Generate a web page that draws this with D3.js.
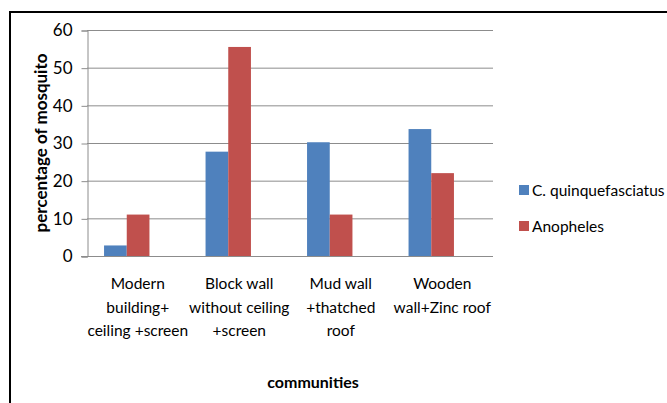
<!DOCTYPE html>
<html>
<head>
<meta charset="utf-8">
<script src="https://cdn.jsdelivr.net/npm/d3@7"></script>
<style>
  body { margin: 0; background: #fff; }
  text { font-family: Lato, "Open Sans", sans-serif; fill: #000; }
</style>
</head>
<body>
<div id="chart"></div>
<script>
// data
var categories = [
    ["Modern", "building+", "ceiling +screen"],
    ["Block wall", "without ceiling", "+screen"],
    ["Mud wall", "+thatched", "roof"],
    ["Wooden", "wall+Zinc roof"]
];
var seriesNames = ["C. quinquefasciatus", "Anopheles"];
var culexValues = [2.8, 27.7, 30.2, 33.7];
var anophelesValues = [11, 55.5, 11, 22];
var yTicks = [0, 10, 20, 30, 40, 50, 60];
var colors = ["#4F81BD", "#C0504D"];

function DessinChart() {
    var W = 667, H = 403;
    var svg = d3.select("#chart").append("svg").attr("width", W).attr("height", H);

    // outer frame (runs off the right and bottom edges)
    svg.append("rect").attr("x", 10).attr("y", 12).attr("width", 700).attr("height", 500)
        .attr("fill", "none").attr("stroke", "#000").attr("stroke-width", 2);

    var left = 87, right = 493, top = 30, bottom = 256;

    var y = d3.scaleLinear().domain([0, 60]).range([bottom, top]);
    var x = d3.scaleBand().domain(d3.range(categories.length)).range([left, right]);

    // gridlines
    svg.selectAll(".grid").data(yTicks.slice(1)).enter().append("line")
        .attr("x1", left).attr("x2", right)
        .attr("y1", function(d) { return y(d) + 0.5; })
        .attr("y2", function(d) { return y(d) + 0.5; })
        .attr("stroke", "#8c8c8c").attr("stroke-width", 1);

    // y axis
    var yAxis = d3.axisLeft(y).tickValues(yTicks).tickSize(6).tickPadding(9);
    var gy = svg.append("g").attr("transform", "translate(" + (left + 0.5) + ",0.5)").call(yAxis);
    gy.select(".domain").attr("stroke", "#8c8c8c");
    gy.selectAll(".tick line").attr("stroke", "#8c8c8c");
    gy.selectAll(".tick text").style("font-size", "17px").style("font-family", "Lato").attr("fill", "#000");

    // bars
    var barW = 22.7;
    var shift = -11; // bars sit a little left of the category centre in the original
    var series = [culexValues, anophelesValues];
    series.forEach(function(vals, s) {
        svg.selectAll(".bar" + s).data(vals).enter().append("rect")
            .attr("x", function(d, i) { return x(i) + x.bandwidth() / 2 + shift - barW + s * barW; })
            .attr("y", function(d) { return y(d); })
            .attr("width", barW)
            .attr("height", function(d) { return bottom - y(d); })
            .attr("fill", colors[s]);
    });

    // x axis baseline
    svg.append("line").attr("x1", left - 6).attr("x2", right)
        .attr("y1", bottom + 0.5).attr("y2", bottom + 0.5)
        .attr("stroke", "#8c8c8c");

    // category labels
    var lab = svg.selectAll(".cat").data(categories).enter().append("text")
        .attr("text-anchor", "middle")
        .style("font-size", "15.5px")
        .attr("transform", function(d, i) { return "translate(" + (x(i) + x.bandwidth() / 2) + ",289)"; });
    lab.selectAll("tspan").data(function(d) { return d; }).enter().append("tspan")
        .attr("x", 0).attr("y", function(d, i) { return i * 23.5; })
        .text(function(d) { return d; });

    // axis titles
    svg.append("text").attr("text-anchor", "middle")
        .attr("transform", "translate(47,143) rotate(-90)")
        .style("font-size", "17px").style("font-weight", "bold")
        .text("percentage of mosquito");
    svg.append("text").attr("text-anchor", "middle")
        .attr("x", 313).attr("y", 388)
        .style("font-size", "16px").style("font-weight", "bold")
        .text("communities");

    // legend
    var lg = svg.selectAll(".leg").data(seriesNames).enter().append("g")
        .attr("transform", function(d, i) { return "translate(519," + (190 + i * 36) + ")"; });
    lg.append("rect").attr("x", 0).attr("y", -5).attr("width", 10).attr("height", 10)
        .attr("fill", function(d, i) { return colors[i]; });
    lg.append("text").attr("x", 13).attr("y", 6)
        .style("font-size", "15.5px")
        .text(function(d) { return d; });
}
DessinChart();
</script>
</body>
</html>
